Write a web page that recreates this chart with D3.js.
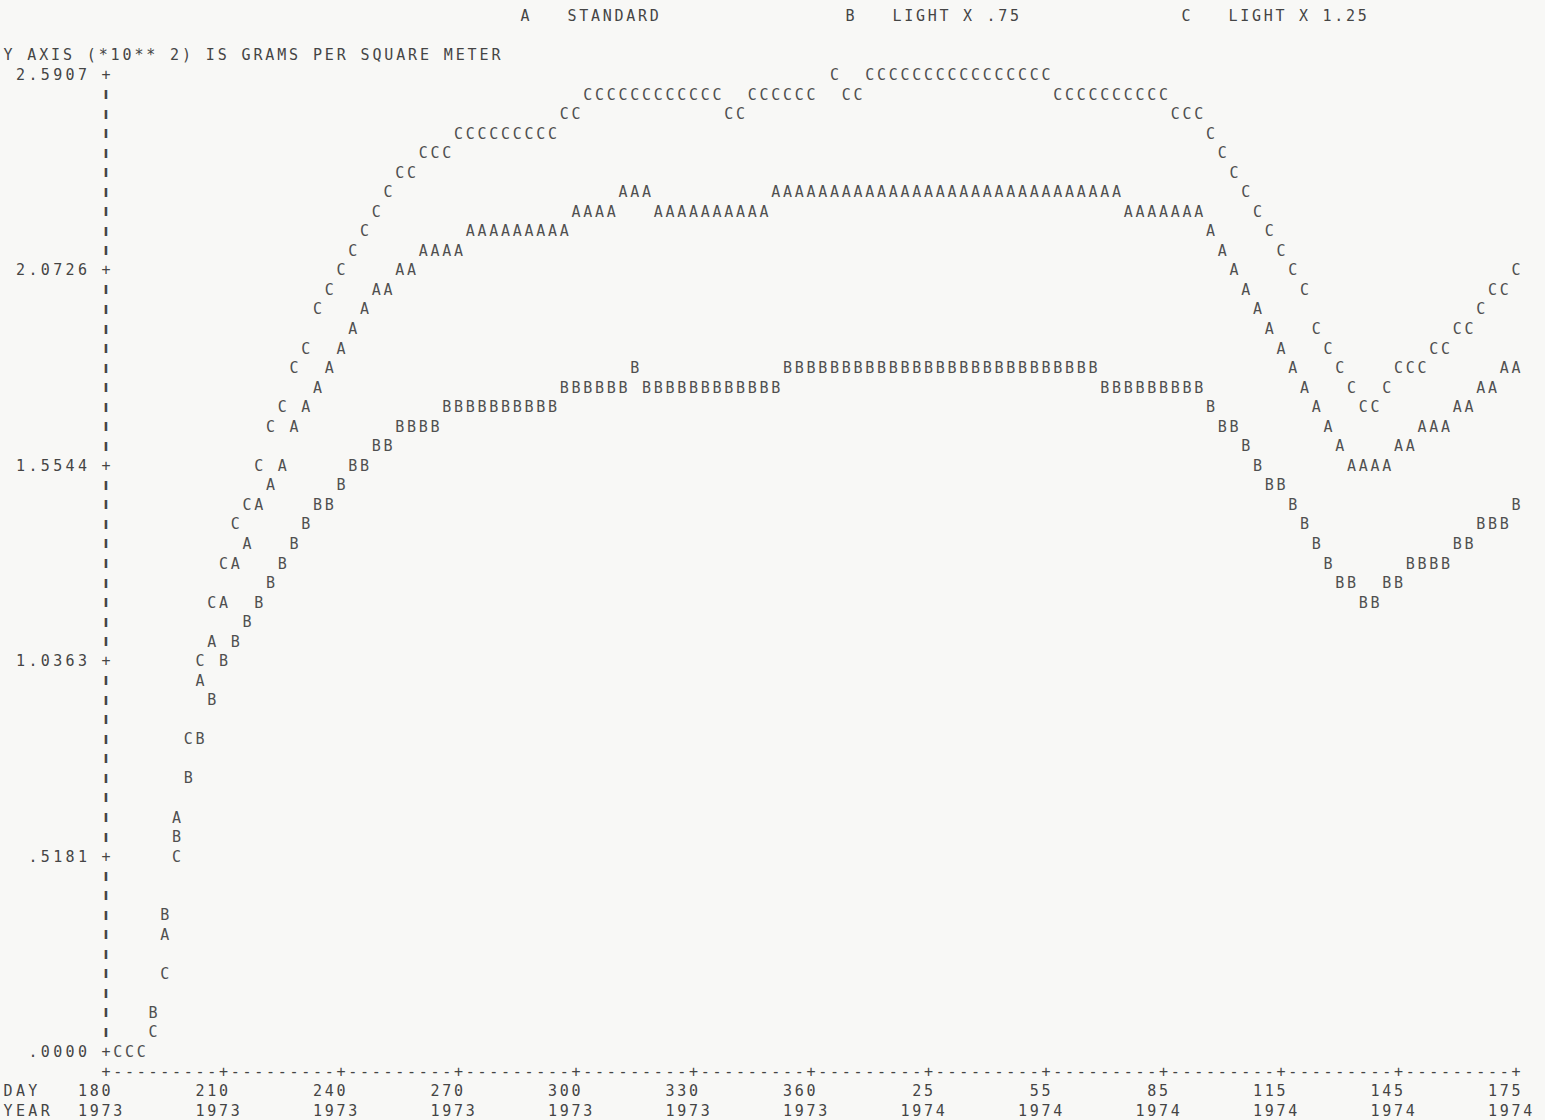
<!DOCTYPE html>
<html>
<head>
<meta charset="utf-8">
<script src="https://cdn.jsdelivr.net/npm/d3@7"></script>
<style>
  body { margin: 0; background: #f8f8f6; }
  svg text { font-family: "DejaVu Sans Mono", monospace; font-size: 15px; fill: #454545; }
  svg text.bar { font-family: "DejaVu Sans", sans-serif; font-size: 13px; font-weight: bold; }
</style>
</head>
<body>
<div id="chart"></div>
<script>
// day numbers counted from 1 Jan 1973, one printer column every 3 days
var days = [
  180,183,186,189,192,195,198,201,204,207,
  210,213,216,219,222,225,228,231,234,237,
  240,243,246,249,252,255,258,261,264,267,
  270,273,276,279,282,285,288,291,294,297,
  300,303,306,309,312,315,318,321,324,327,
  330,333,336,339,342,345,348,351,354,357,
  360,363,366,369,372,375,378,381,384,387,
  390,393,396,399,402,405,408,411,414,417,
  420,423,426,429,432,435,438,441,444,447,
  450,453,456,459,462,465,468,471,474,477,
  480,483,486,489,492,495,498,501,504,507,
  510,513,516,519,522,525,528,531,534,537,
  540
]

// A  STANDARD  (g/m2 * 10**2)
var standard = [
  null,null,null,null,null,.31,.62,null,.98,1.09,
  1.19,1.30,1.35,1.45,1.50,1.55,1.66,1.71,1.76,1.81,
  1.87,1.92,1.97,2.02,2.02,2.07,2.07,2.12,2.12,2.12,
  2.12,2.18,2.18,2.18,2.18,2.18,2.18,2.18,2.18,2.18,
  2.23,2.23,2.23,2.23,2.28,2.28,2.28,2.23,2.23,2.23,
  2.23,2.23,2.23,2.23,2.23,2.23,2.23,2.28,2.28,2.28,
  2.28,2.28,2.28,2.28,2.28,2.28,2.28,2.28,2.28,2.28,
  2.28,2.28,2.28,2.28,2.28,2.28,2.28,2.28,2.28,2.28,
  2.28,2.28,2.28,2.28,2.28,2.28,2.28,2.23,2.23,2.23,
  2.23,2.23,2.23,2.23,2.18,2.12,2.07,2.02,1.97,1.92,
  1.87,1.81,1.76,1.71,1.66,1.61,1.55,1.55,1.55,1.55,
  1.61,1.61,1.66,1.66,1.66,1.71,1.71,1.76,1.76,1.81,
  1.81
]

// B  LIGHT X .75
var lightLow = [
  null,null,null,null,.10,.36,.57,.73,.83,.93,
  1.04,1.09,1.14,1.19,1.24,1.30,1.35,1.40,1.45,1.45,
  1.50,1.55,1.55,1.61,1.61,1.66,1.66,1.66,1.66,1.71,
  1.71,1.71,1.71,1.71,1.71,1.71,1.71,1.71,1.71,1.76,
  1.76,1.76,1.76,1.76,1.76,1.81,1.76,1.76,1.76,1.76,
  1.76,1.76,1.76,1.76,1.76,1.76,1.76,1.76,1.81,1.81,
  1.81,1.81,1.81,1.81,1.81,1.81,1.81,1.81,1.81,1.81,
  1.81,1.81,1.81,1.81,1.81,1.81,1.81,1.81,1.81,1.81,
  1.81,1.81,1.81,1.81,1.81,1.76,1.76,1.76,1.76,1.76,
  1.76,1.76,1.76,1.76,1.71,1.66,1.66,1.61,1.55,1.50,
  1.50,1.45,1.40,1.35,1.30,1.24,1.24,1.19,1.19,1.24,
  1.24,1.30,1.30,1.30,1.30,1.35,1.35,1.40,1.40,1.40,
  1.45
]

// C  LIGHT X 1.25
var lightHigh = [
  null,0,0,0,.05,.21,.52,.83,1.04,1.19,
  1.30,1.40,1.45,1.55,1.66,1.71,1.81,1.87,1.97,2.02,
  2.07,2.12,2.18,2.23,2.28,2.33,2.33,2.38,2.38,2.38,
  2.44,2.44,2.44,2.44,2.44,2.44,2.44,2.44,2.44,2.49,
  2.49,2.54,2.54,2.54,2.54,2.54,2.54,2.54,2.54,2.54,
  2.54,2.54,2.54,2.49,2.49,2.54,2.54,2.54,2.54,2.54,
  2.54,null,2.59,2.54,2.54,2.59,2.59,2.59,2.59,2.59,
  2.59,2.59,2.59,2.59,2.59,2.59,2.59,2.59,2.59,2.59,
  2.59,2.54,2.54,2.54,2.54,2.54,2.54,2.54,2.54,2.54,
  2.54,2.49,2.49,2.49,2.44,2.38,2.33,2.28,2.23,2.18,
  2.12,2.07,2.02,1.92,1.87,1.81,1.76,1.71,1.71,1.76,
  1.81,1.81,1.81,1.87,1.87,1.92,1.92,1.97,2.02,2.02,
  2.07
]

var seriesSymbols = ['A', 'B', 'C']
var seriesNames = ['STANDARD', 'LIGHT X .75', 'LIGHT X 1.25']

var yTicks = [0, .5181, 1.0363, 1.5544, 2.0726, 2.5907]
var yTickLabels = ['.0000', '.5181', '1.0363', '1.5544', '2.0726', '2.5907']
var dayTicks = [180, 210, 240, 270, 300, 330, 360, 390, 420, 450, 480, 510, 540]
var dayLabels = ['180', '210', '240', '270', '300', '330', '360', '25', '55', '85', '115', '145', '175']
var yearLabels = ['1973', '1973', '1973', '1973', '1973', '1973', '1973', '1974', '1974', '1974', '1974', '1974', '1974']

var width = 1545
var height = 1120
var rows = 50   // printer lines between 0 and the top value

var svg = d3.select('#chart')
  .append('svg')
  .attr('width', width)
  .attr('height', height)

var x = d3.scaleLinear()
  .domain([180, 540])
  .range([106, 1516])

var y = d3.scaleLinear()
  .domain([0, 2.5907])
  .range([1052, 75])

var step = 2.5907 / rows
var pitch = x(183) - x(180)

// snap a value onto the nearest printer line
function rowY(r) { return y(r * step) }
function snapY(v) { return rowY(Math.round(v / step)) }

// print a string one character per column
function printText(str, x0, yy, p) {
  p = p || pitch
  svg.append('g')
    .selectAll('text')
    .data(str.split(''))
    .enter()
    .append('text')
    .attr('x', function (d, i) { return x0 + i * p })
    .attr('y', yy)
    .attr('text-anchor', 'middle')
    .attr('dominant-baseline', 'central')
    .text(function (d) { return d })
}

// legend line and y axis title
var legendX = [525, 850, 1186]
seriesSymbols.forEach(function (s, i) {
  printText(s + '   ' + seriesNames[i], legendX[i], rowY(53))
})
printText('Y AXIS (*10** 2) IS GRAMS PER SQUARE METER', 8, rowY(51), 11.9)

// vertical axis: '+' at labelled lines, 'I' elsewhere
var tickRows = yTicks.map(function (t) { return Math.round(t / step) })
svg.append('g')
  .selectAll('text')
  .data(d3.range(0, rows + 1))
  .enter()
  .append('text')
  .attr('class', function (r) { return tickRows.indexOf(r) >= 0 ? null : 'bar' })
  .attr('x', x(180))
  .attr('y', function (r) { return rowY(r) })
  .attr('text-anchor', 'middle')
  .attr('dominant-baseline', 'central')
  .text(function (r) { return tickRows.indexOf(r) >= 0 ? '+' : 'I' })

// y labels end two columns left of the axis
var labPitch = 12.4
yTicks.forEach(function (t, i) {
  var lab = yTickLabels[i]
  printText(lab, x(180) - 2 * pitch - (lab.length - 1) * labPitch, y(t), labPitch)
})

// horizontal axis line
var cols = d3.range(0, 121)
svg.append('g')
  .selectAll('text')
  .data(cols)
  .enter()
  .append('text')
  .attr('x', function (c) { return x(180) + c * pitch })
  .attr('y', rowY(-1))
  .attr('text-anchor', 'middle')
  .attr('dominant-baseline', 'central')
  .text(function (c) { return c % 10 === 0 ? '+' : '-' })

printText('DAY', 8, rowY(-2), 12.4)
printText('YEAR', 8, rowY(-3), 12.4)
dayTicks.forEach(function (d, i) {
  var lab = dayLabels[i]
  printText(lab, x(d) - (lab.length - 1) * pitch, rowY(-2))
  printText(yearLabels[i], x(d) - 2 * pitch, rowY(-3))
})

// the three series, C printed last so it wins where characters meet
var allSeries = [standard, lightLow, lightHigh]
allSeries.forEach(function (vals, k) {
  var pts = days.map(function (d, i) { return { day: d, value: vals[i] } })
    .filter(function (p) { return p.value !== null })
  svg.append('g')
    .selectAll('text')
    .data(pts)
    .enter()
    .append('text')
    .attr('x', function (p) { return x(p.day) })
    .attr('y', function (p) { return snapY(p.value) })
    .attr('text-anchor', 'middle')
    .attr('dominant-baseline', 'central')
    .style('fill', '#505050')
    .text(seriesSymbols[k])
})
</script>
</body>
</html>
